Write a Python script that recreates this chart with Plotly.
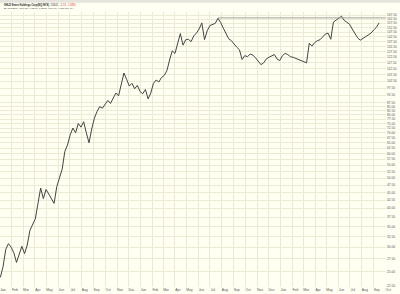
import math
import pandas as pd
import plotly.graph_objects as go

# ---- data (weekly closes) ----
week_start = "2004-01-02"
closes = [
    24.0, 26.0, 29.5, 30.8, 30.0, 28.8, 26.8, 28.5, 30.2, 28.6,
    30.5, 34.0, 35.6, 37.0, 41.5, 46.5, 43.0, 46.0, 44.5, 43.0,
    41.5, 47.0, 50.0, 53.5, 61.0, 64.0, 69.0, 72.5, 70.0, 75.0,
    73.0, 76.0, 70.0, 65.0, 72.0, 78.0, 82.0, 85.0, 84.0, 86.5,
    89.0, 87.0, 91.0, 94.0, 92.0, 100.0, 109.0, 104.0, 99.0, 101.0,
    97.0, 99.5, 95.0, 93.5, 96.5, 90.0, 94.0, 101.0, 103.5, 102.0,
    105.5, 107.0, 111.0, 120.0, 128.5, 126.0, 137.0, 146.0, 134.0, 139.5,
    140.0, 137.5, 143.5, 146.5, 151.0, 158.0, 139.5, 149.0, 155.0, 156.0,
    157.5, 163.5, 158.5, 152.0, 146.5, 140.5, 138.5, 135.0, 132.0, 129.5,
    120.5, 124.0, 123.0, 125.5, 124.5, 122.0, 119.0, 116.0, 117.5, 121.0,
    122.5, 124.0, 125.0, 121.0, 119.5, 124.0, 126.0, 125.0, 123.0, 122.5,
    121.5, 120.5, 120.0, 118.5, 117.5, 136.0, 133.0, 136.5, 138.5, 139.5,
    142.0, 145.5, 146.5, 140.0, 159.0, 161.5, 163.5, 166.0, 161.0, 158.5,
    156.5, 151.0, 145.5, 141.5, 139.0, 141.0, 143.0, 145.0, 146.5, 150.0,
    153.0, 158.0,
]
dates = pd.date_range(week_start, periods=len(closes), freq="7D")

resist_level = 164.0
resist_dates = ["2005-07-22", "2006-10-03"]

y_ticks = [22.5, 25.0, 27.5, 30.0, 32.5, 35.0, 37.5, 40.0, 42.5, 45.0,
           47.5, 50.0, 52.5, 55.0, 57.5, 60.0, 62.5, 65.0, 67.5, 70.0,
           72.5, 75.0, 77.5, 80.0, 82.5, 85.0, 87.5, 92.5, 97.5, 102.5,
           107.5, 112.5, 117.5, 122.5, 127.5, 132.5, 137.5, 142.5, 147.5,
           152.5, 157.5, 162.5, 167.5]
y_min, y_max = 22.34, 171.3

month_ticks = pd.date_range("2004-01-01", "2006-10-01", freq="MS")
month_labels = [d.strftime("%b") for d in month_ticks]

header_1 = ("<b>SHLD Sears Holdings Corp(NQ NYS)</b>  158.01  "
            "<span style='color:#e02020'>-2.13</span>  "
            "<span style='color:#e02020'>-1.33%</span>")
header_2 = "Bx 10/1/2004  O:84.57  H:85.77  L:83.50  C:84.71  V:957,800  MA"

bg = "#FFFFF2"
grid = "#EBEBD5"
font_family = "Liberation Sans"

fig = go.Figure()
fig.add_trace(go.Scatter(
    x=dates, y=closes, mode="lines",
    line=dict(color="#444444", width=1.0), hoverinfo="skip", showlegend=False))
fig.add_trace(go.Scatter(
    x=resist_dates, y=[resist_level, resist_level], mode="lines",
    line=dict(color="#a0a098", width=1), hoverinfo="skip", showlegend=False))

fig.update_layout(
    width=400, height=294,
    margin=dict(l=0, r=14, t=12, b=7),
    paper_bgcolor=bg, plot_bgcolor=bg,
    font=dict(family=font_family, color="#333"),
    xaxis=dict(
        type="date", range=["2004-01-01", "2006-10-03"],
        tickvals=month_ticks, ticktext=month_labels,
        showgrid=True, gridcolor=grid, gridwidth=1,
        ticks="", zeroline=False, showline=False,
        tickfont=dict(size=3.4, color="#555"), ticklabelshift=3,
    ),
    yaxis=dict(
        type="log", range=[math.log10(y_min), math.log10(y_max)],
        side="right", tickvals=y_ticks,
        ticktext=[f"{v:.2f}" for v in y_ticks],
        showgrid=True, gridcolor=grid, gridwidth=1,
        ticks="", zeroline=False, showline=False,
        tickfont=dict(size=3.2, color="#555"),
    ),
    shapes=[
        dict(type="rect", xref="paper", yref="paper", x0=0, x1=1.04,
             y0=1.034, y1=1.05, fillcolor="#E4E4DC", line=dict(width=0), layer="below"),
    ],
    annotations=[
        dict(text=header_1, xref="paper", yref="paper", x=0.004, y=1.0255,
             xanchor="left", yanchor="middle", showarrow=False,
             font=dict(size=2.6, color="#222")),
        dict(text=header_2, xref="paper", yref="paper", x=0.004, y=1.011,
             xanchor="left", yanchor="middle", showarrow=False,
             font=dict(size=2.4, color="#333")),
    ],
)

fig.write_html("out.html")
